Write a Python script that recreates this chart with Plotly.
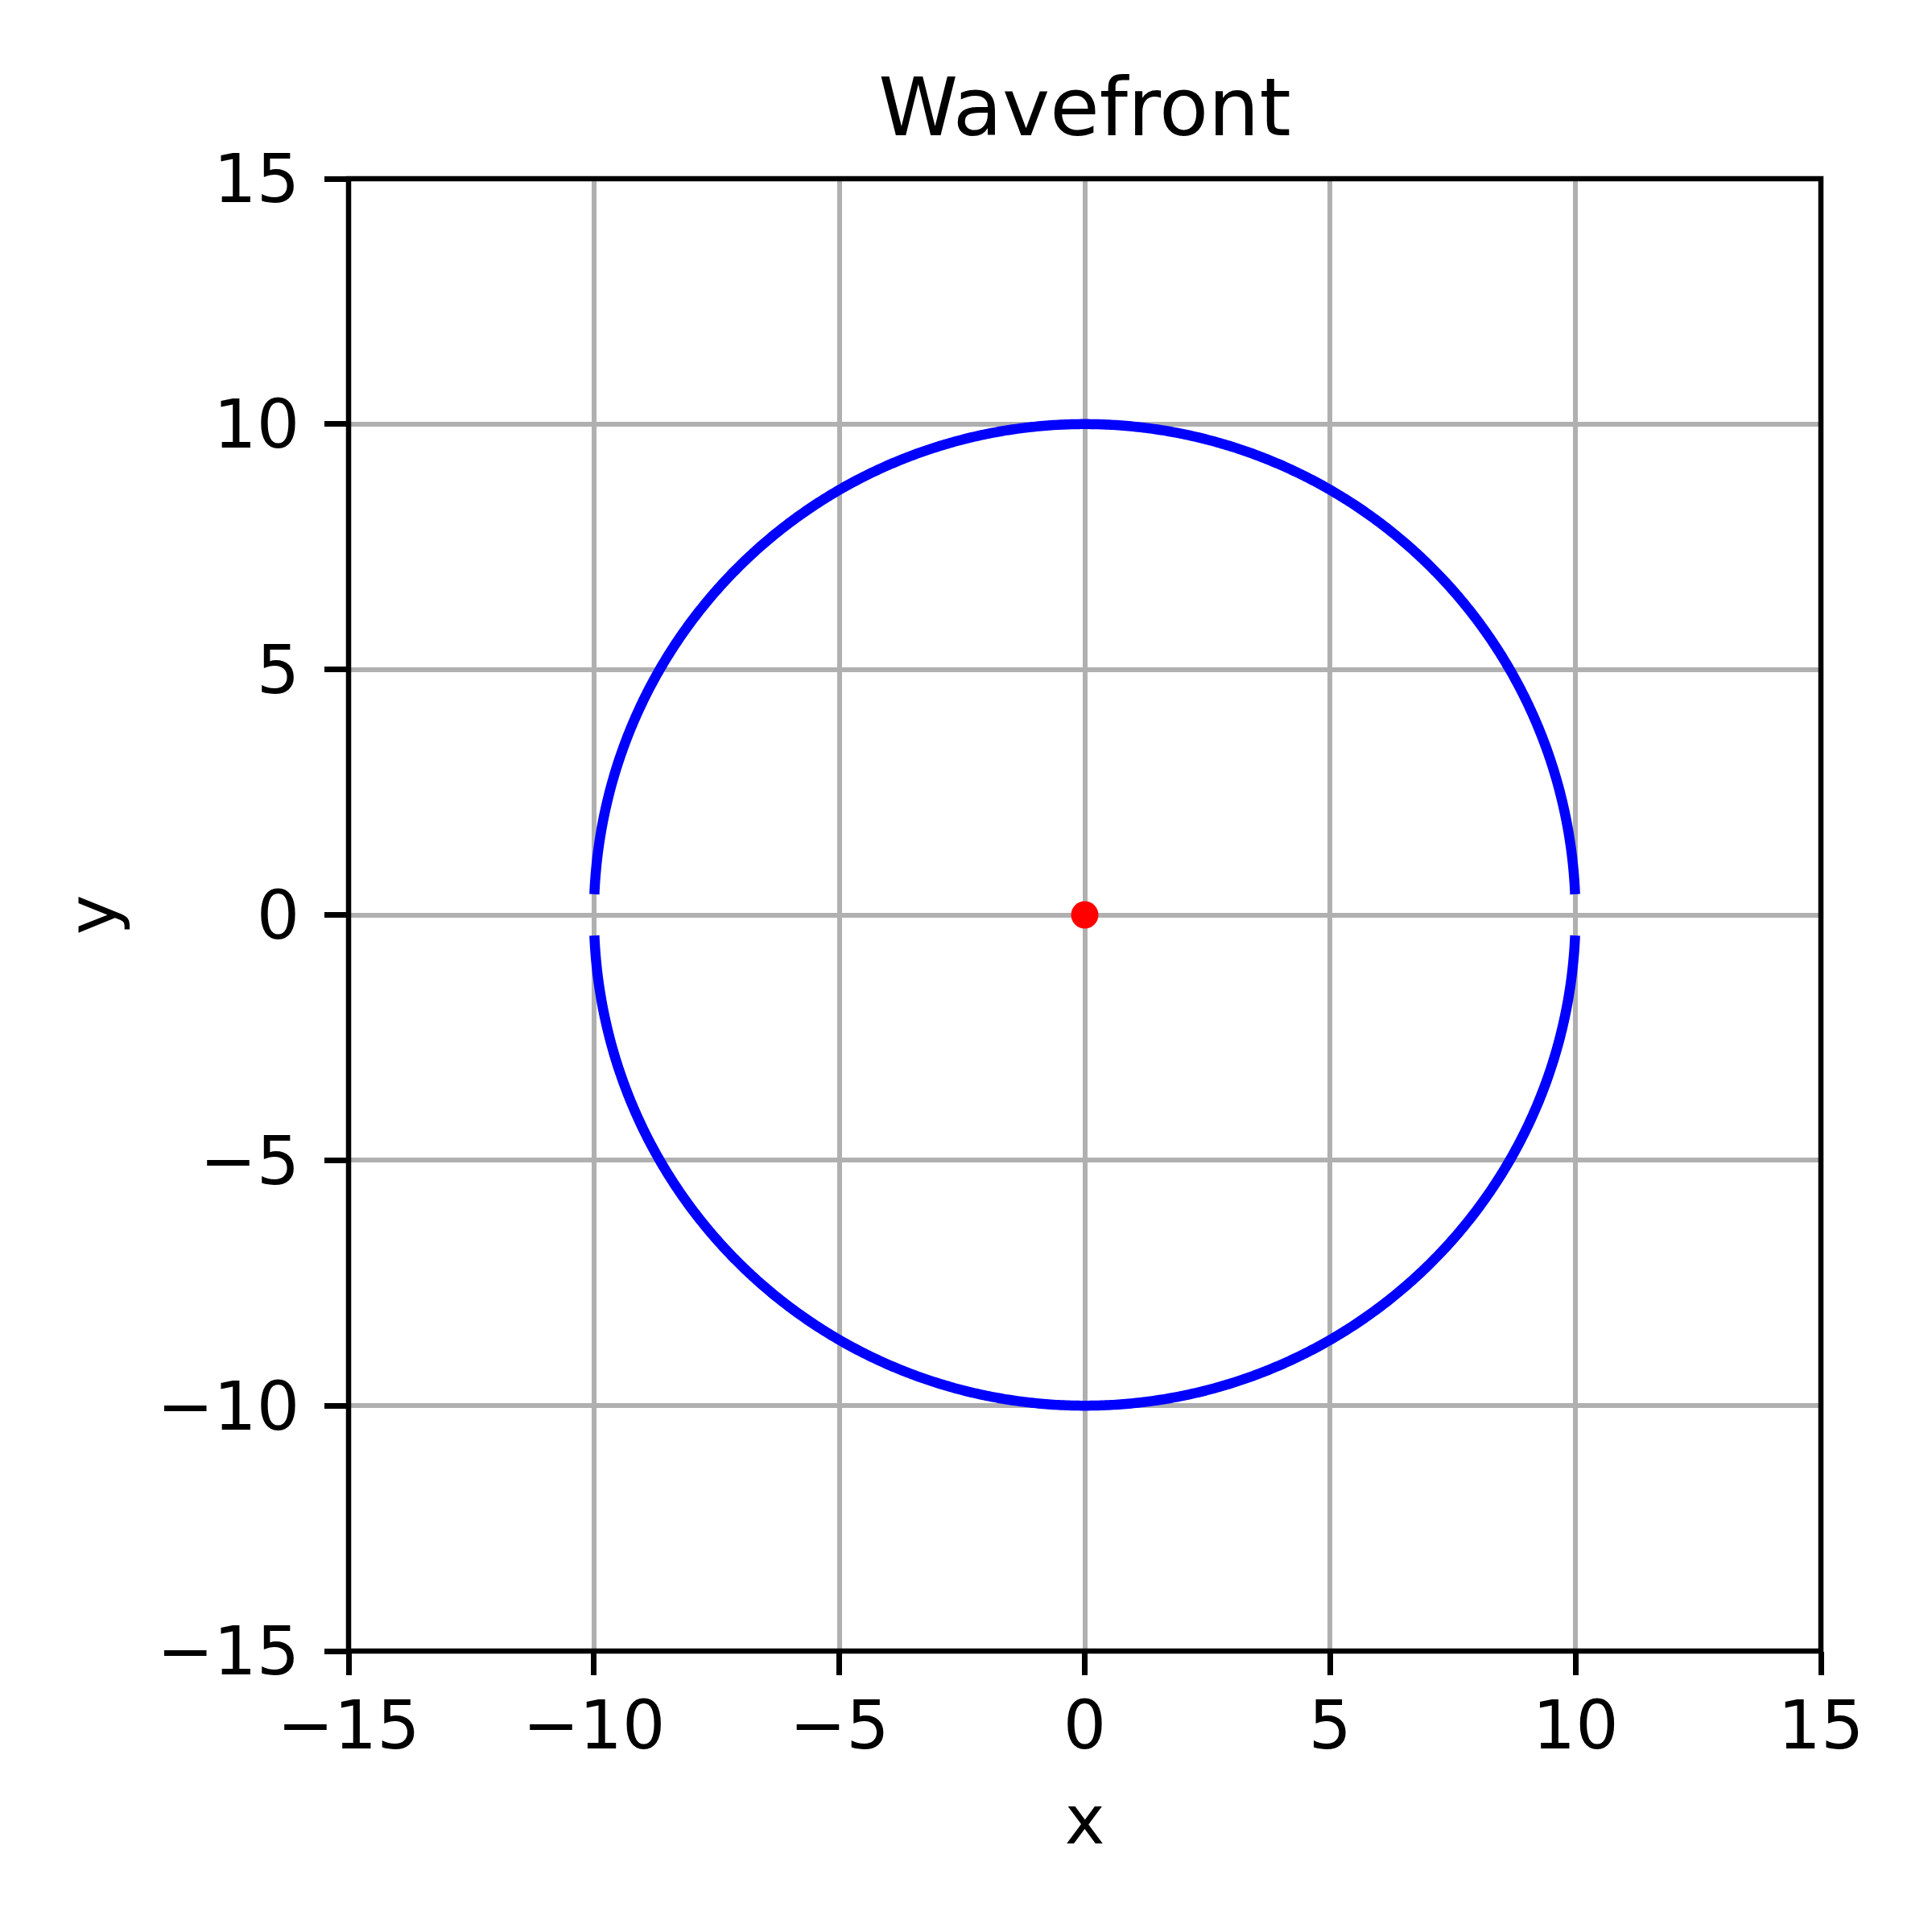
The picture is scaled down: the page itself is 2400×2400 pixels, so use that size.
import numpy as np
import plotly.graph_objects as go

# wavefront: circle of radius 10 around the source, small gap where it crosses y = 0
radius = 10.0
gap_half = 0.42          # half-height of the gap at y = 0 (data units)
source_x = [0.0]
source_y = [0.0]
tick_vals = [-15, -10, -5, 0, 5, 10, 15]

a0 = np.arcsin(gap_half / radius)
theta_up = np.linspace(a0, np.pi - a0, 600)
theta_dn = -theta_up

fig = go.Figure()

for th in (theta_up, theta_dn):
    fig.add_trace(go.Scatter(
        x=radius * np.cos(th), y=radius * np.sin(th),
        mode='lines', line=dict(color='#0000ff', width=12.5, simplify=False),
        showlegend=False, hoverinfo='skip'
    ))

fig.add_trace(go.Scatter(
    x=source_x, y=source_y, mode='markers',
    marker=dict(color='#ff0000', size=34, line=dict(width=0)),
    showlegend=False
))

axis_common = dict(
    range=[-15, 15],
    tickmode='array', tickvals=tick_vals,
    ticks='outside', ticklen=29, tickwidth=6.5, tickcolor='black',
    showline=False,
    showgrid=True, gridcolor='#b0b0b0', gridwidth=6,
    zeroline=False,
    tickfont=dict(family='DejaVu Sans', size=84, color='black'),
)

fig.update_xaxes(**axis_common, ticklabelstandoff=-10,
                 title=dict(text='x', standoff=40,
                            font=dict(family='DejaVu Sans', size=84, color='black')))
fig.update_yaxes(**axis_common, ticklabelstandoff=14,
                 title=dict(text='y', standoff=22,
                            font=dict(family='DejaVu Sans', size=84, color='black')))

# axes frame (spines centred on the plot-area edge)
fig.add_shape(type='rect', xref='paper', yref='paper', x0=0, y0=0, x1=1, y1=1,
              line=dict(color='black', width=6.5), layer='above')

fig.update_layout(
    width=2400, height=2400,
    margin=dict(l=425, r=146, t=214, b=357),
    plot_bgcolor='white', paper_bgcolor='white',
    title=dict(text='Wavefront', x=0.5, xanchor='center', xref='paper',
               y=1 - 160 / 2400, yanchor='bottom', yref='container',
               font=dict(family='DejaVu Sans', size=100, color='black')),
)

fig.write_html("out.html")
